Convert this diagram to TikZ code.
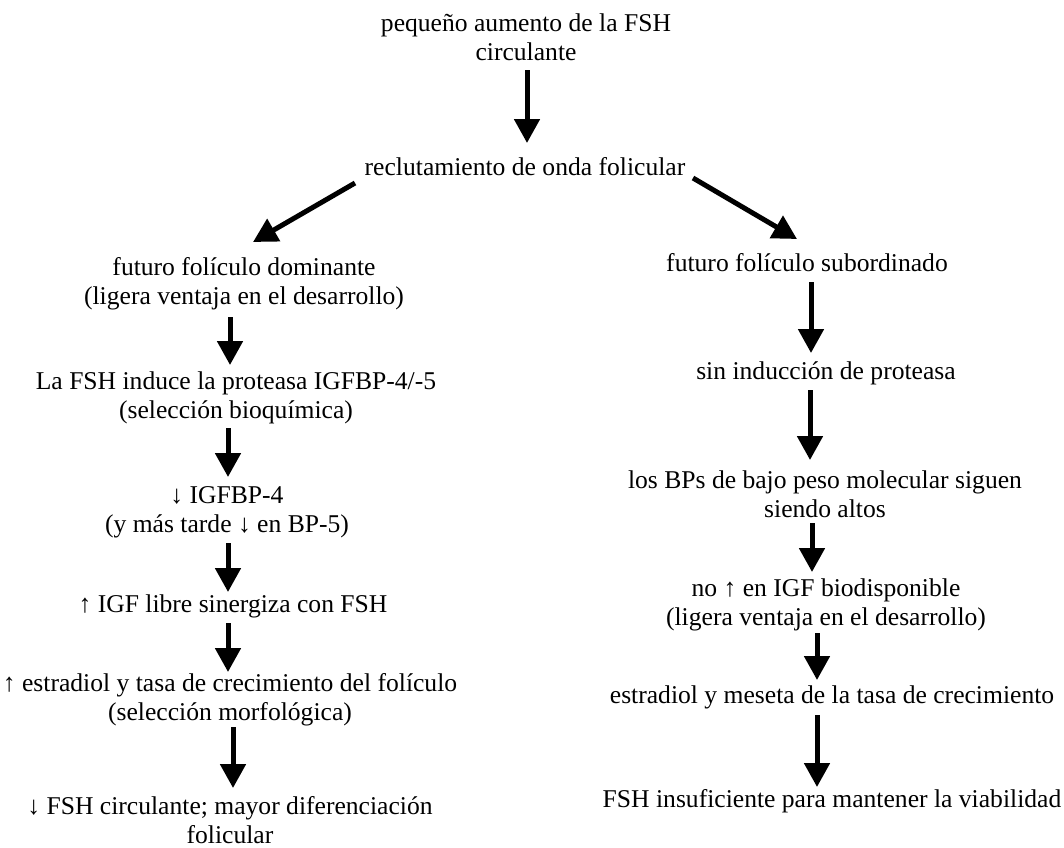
\documentclass[tikz,border=0pt]{standalone}
\usepackage{fontspec}
\setmainfont{Liberation Serif}
\usetikzlibrary{arrows.meta}
\tikzset{
  txt/.style={anchor=north, inner sep=0pt, outer sep=0pt, align=center,
    font=\fontsize{25.6}{29}\selectfont},
  arr/.style={line width=5pt, -{Triangle[width=25pt,length=24pt]}}
}
\begin{document}
\begin{tikzpicture}[x=1pt,y=-1pt]
\useasboundingbox[fill=white] (0,0) rectangle (1064,847);
% top
\node[txt] (n1) at (526,10.7) {\strut pequeño aumento de la FSH\\\strut circulante};
\node[txt] (n2) at (525,154.7) {\strut reclutamiento de onda folicular};
% left column
\node[txt] (d1) at (244,254.7) {\strut futuro folículo dominante\\\strut (ligera ventaja en el desarrollo)};
\node[txt] (d2) at (236,368.7) {\strut La FSH induce la proteasa IGFBP-4/-5\\\strut (selección bioquímica)};
\node[txt] (d3) at (227,482.7) {\strut ↓ IGFBP-4\\\strut (y más tarde ↓ en BP-5)};
\node[txt] (d4) at (233,591.7) {\strut ↑ IGF libre sinergiza con FSH};
\node[txt] (d5) at (230,670.7) {\strut ↑ estradiol y tasa de crecimiento del folículo\\\strut (selección morfológica)};
\node[txt] (d6) at (230,793.7) {\strut ↓ FSH circulante; mayor diferenciación\\folicular};
% right column
\node[txt] (s1) at (807,250.7) {\strut futuro folículo subordinado};
\node[txt] (s2) at (826,358.7) {\strut sin inducción de proteasa};
\node[txt] (s3) at (825,467.7) {\strut los BPs de bajo peso molecular siguen\\\strut siendo altos};
\node[txt] (s4) at (826,575.7) {\strut no ↑ en IGF biodisponible\\\strut (ligera ventaja en el desarrollo)};
\node[txt] (s5) at (832,682.7) {\strut estradiol y meseta de la tasa de crecimiento};
\node[txt] (s6) at (832,786.7) {\strut FSH insuficiente para mantener la viabilidad};
% arrows
\draw[arr] ([xshift=1pt,yshift=-1.3pt]n1.south) -- ([xshift=2pt,yshift=11.7pt]n2.north);
\draw[arr] ([xshift=-170pt,yshift=0.7pt]n2.south) -- ([xshift=9pt,yshift=12.7pt]d1.north);
\draw[arr] ([xshift=168pt,yshift=5.7pt]n2.south) -- ([xshift=-10pt,yshift=11.7pt]s1.north);
\draw[arr] ([xshift=-14pt,yshift=-4.3pt]d1.south) -- ([xshift=-6pt,yshift=3.7pt]d2.north);
\draw[arr] ([xshift=-8pt,yshift=-1.3pt]d2.south) -- ([xshift=1pt,yshift=5.7pt]d3.north);
\draw[arr] ([xshift=1pt,yshift=-2.3pt]d3.south) -- ([xshift=-5pt,yshift=-0.3pt]d4.north);
\draw[arr] ([xshift=-5pt,yshift=-2.3pt]d4.south) -- ([xshift=-2pt,yshift=-1.3pt]d5.north);
\draw[arr] ([xshift=3pt,yshift=1.7pt]d5.south) -- ([xshift=3pt,yshift=5.7pt]d6.north);
\draw[arr] ([xshift=4pt,yshift=-2.3pt]s1.south) -- ([xshift=-15pt,yshift=5.7pt]s2.north);
\draw[arr] ([xshift=-16pt,yshift=-2.3pt]s2.south) -- ([xshift=-15pt,yshift=7.7pt]s3.north);
\draw[arr] ([xshift=-13pt,yshift=2.7pt]s3.south) -- ([xshift=-14pt,yshift=3.7pt]s4.north);
\draw[arr] ([xshift=-9pt,yshift=0.7pt]s4.south) -- ([xshift=-15pt,yshift=2.7pt]s5.north);
\draw[arr] ([xshift=-15pt,yshift=-3.3pt]s5.south) -- ([xshift=-15pt,yshift=-0.3pt]s6.north);
\end{tikzpicture}
\end{document}
